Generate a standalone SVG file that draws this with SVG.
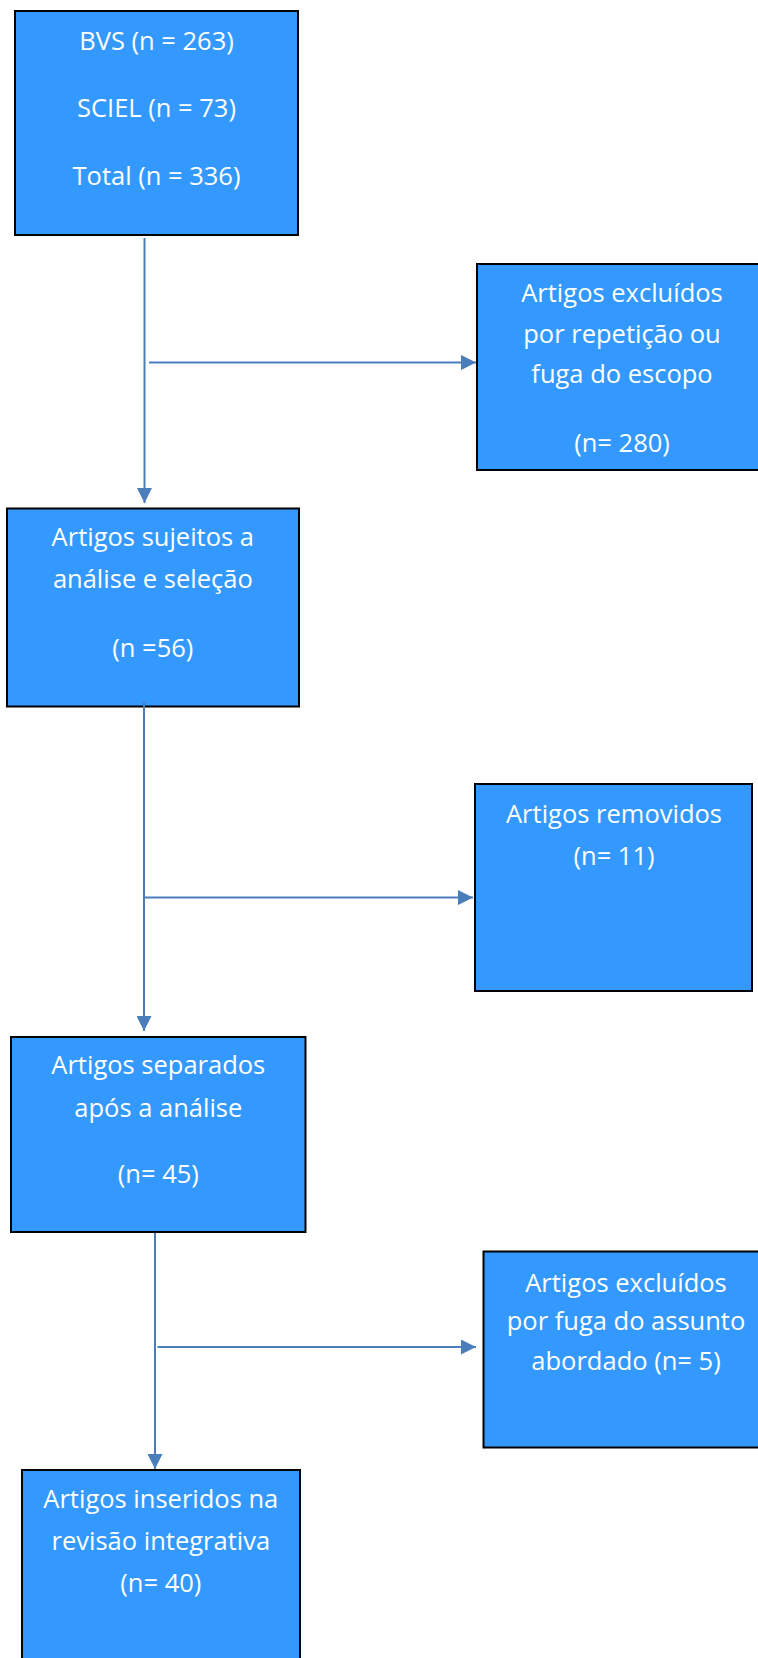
<svg xmlns="http://www.w3.org/2000/svg" width="758" height="1658" viewBox="0 0 758 1658">
<style>
.box{fill:#3399FF;stroke:#000;stroke-width:2}
.t{font-family:"Open Sans","Noto Sans","Liberation Sans",sans-serif;font-size:25.5px;fill:#fff;text-anchor:middle}
.c{stroke:#4A7EBB;stroke-width:2;fill:none}
</style>
<defs>
<marker id="ah" markerUnits="userSpaceOnUse" markerWidth="15" markerHeight="15" refX="15" refY="7.5" orient="auto">
<path d="M0,0 L15,7.5 L0,15 z" fill="#4A7EBB"/>
</marker>
</defs>
<rect width="758" height="1658" fill="#fff"/>
<g id="n1">
<rect class="box" x="15" y="11" width="283" height="224"/>
<text class="t" x="156.5" y="49.5">BVS (n = 263)</text>
<text class="t" x="156.5" y="117">SCIEL (n = 73)</text>
<text class="t" x="156.5" y="185">Total (n = 336)</text>
</g>
<g id="n2">
<rect class="box" x="477" y="264" width="300" height="206"/>
<text class="t" x="622" y="301.7">Artigos excluídos</text>
<text class="t" x="622" y="343.3">por repetição ou</text>
<text class="t" x="622" y="383.3">fuga do escopo</text>
<text class="t" x="622" y="452">(n= 280)</text>
</g>
<g id="n3">
<rect class="box" x="7" y="508.5" width="292" height="198"/>
<text class="t" x="152.8" y="545.7">Artigos sujeitos a</text>
<text class="t" x="152.8" y="588">análise e seleção</text>
<text class="t" x="152.8" y="656.7">(n =56)</text>
</g>
<g id="n4">
<rect class="box" x="475" y="784" width="277" height="207"/>
<text class="t" x="614" y="822.7">Artigos removidos</text>
<text class="t" x="614" y="865">(n= 11)</text>
</g>
<g id="n5">
<rect class="box" x="11" y="1037" width="294.5" height="195"/>
<text class="t" x="158.3" y="1074.3">Artigos separados</text>
<text class="t" x="158.3" y="1116.7">após a análise</text>
<text class="t" x="158.3" y="1183.3">(n= 45)</text>
</g>
<g id="n6">
<rect class="box" x="483.5" y="1251.5" width="300" height="196"/>
<text class="t" x="626" y="1291.7">Artigos excluídos</text>
<text class="t" x="626" y="1330">por fuga do assunto</text>
<text class="t" x="626" y="1370">abordado (n= 5)</text>
</g>
<g id="n7">
<rect class="box" x="22" y="1470" width="278" height="220"/>
<text class="t" x="160.8" y="1508.3">Artigos inseridos na</text>
<text class="t" x="160.8" y="1550">revisão integrativa</text>
<text class="t" x="160.8" y="1592">(n= 40)</text>
</g>
<g id="connectors">
<line class="c" x1="144.5" y1="238" x2="144.5" y2="503" marker-end="url(#ah)"/>
<line class="c" x1="149" y1="362.6" x2="476" y2="362.6" marker-end="url(#ah)"/>
<line class="c" x1="144" y1="702" x2="144" y2="1031" marker-end="url(#ah)"/>
<line class="c" x1="144" y1="897.6" x2="473" y2="897.6" marker-end="url(#ah)"/>
<line class="c" x1="155" y1="1233" x2="155" y2="1469" marker-end="url(#ah)"/>
<line class="c" x1="157.5" y1="1347" x2="476" y2="1347" marker-end="url(#ah)"/>
</g>
</svg>
